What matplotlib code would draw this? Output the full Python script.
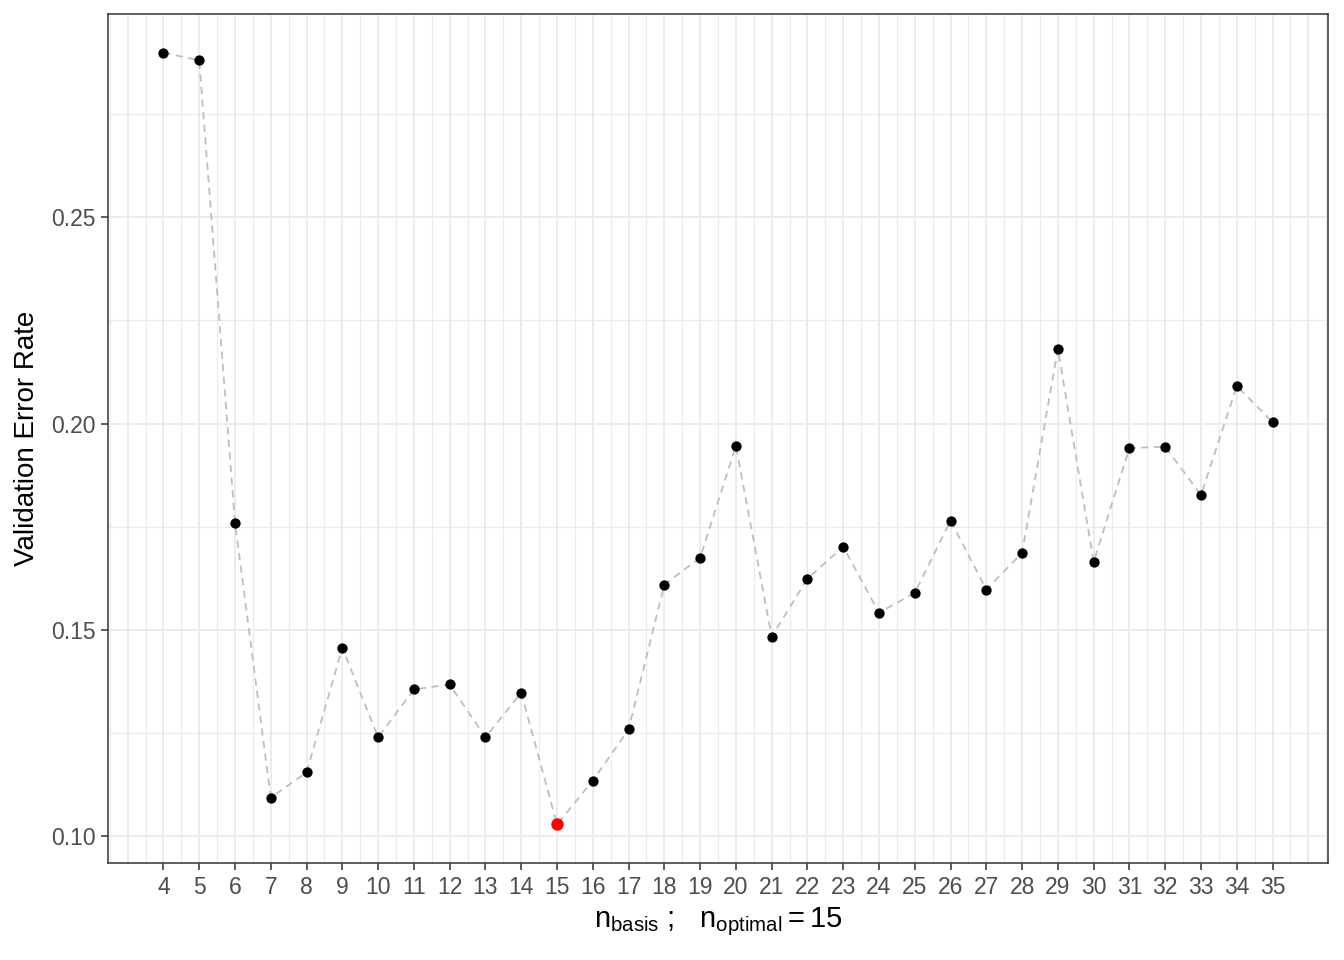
import numpy as np
import matplotlib
matplotlib.use("Agg")
import matplotlib.pyplot as plt

plt.rcParams['font.family'] = ['Liberation Sans', 'DejaVu Sans']
plt.rcParams['mathtext.fontset'] = 'custom'
plt.rcParams['mathtext.rm'] = 'Liberation Sans'
plt.rcParams['mathtext.it'] = 'Liberation Sans:italic'

n_basis = list(range(4, 36))
val_error = [0.2899, 0.2880, 0.1760, 0.1094, 0.1155, 0.1457, 0.1240, 0.1356,
             0.1368, 0.1240, 0.1348, 0.1029, 0.1135, 0.1259, 0.1610, 0.1675,
             0.1946, 0.1484, 0.1624, 0.1702, 0.1542, 0.1590, 0.1765, 0.1598,
             0.1687, 0.2181, 0.1665, 0.1941, 0.1944, 0.1827, 0.2091, 0.2004]
n_optimal = 15
y_ticks = [0.10, 0.15, 0.20, 0.25]

fig = plt.figure(figsize=(13.44, 9.6), dpi=100)
ax = fig.add_axes([108/1344, 97/960, 1220/1344, 849/960])

# grid like theme_bw
for x in np.arange(2.5, 37.0, 0.5):
    ax.axvline(x, color="#ebebeb", lw=0.8 if x % 1 else 1.3, zorder=0)
for y in [0.075, 0.125, 0.175, 0.225, 0.275]:
    ax.axhline(y, color="#ebebeb", lw=0.8, zorder=0)
for y in y_ticks:
    ax.axhline(y, color="#ebebeb", lw=1.3, zorder=0)

ax.plot(n_basis, val_error, ls=(0, (4, 3)), color="#bebebe", lw=1.3, zorder=2)
ax.scatter(n_basis, val_error, s=55, color="black", zorder=3, lw=0)
i_opt = n_basis.index(n_optimal)
ax.scatter([n_optimal], [val_error[i_opt]], s=80, color="red", zorder=4, lw=0)

xr = max(n_basis) - min(n_basis)
ax.set_xlim(min(n_basis) - 0.05 * xr, max(n_basis) + 0.05 * xr)
yr = max(val_error) - min(val_error)
ax.set_ylim(min(val_error) - 0.05 * yr, max(val_error) + 0.05 * yr)

ax.set_xticks(n_basis)
ax.set_yticks(y_ticks)
ax.set_yticklabels(["%.2f" % v for v in y_ticks])
ax.tick_params(colors="#333333", labelcolor="#4d4d4d", labelsize=16.5,
               length=5, width=1.1, pad=4)
for s in ax.spines.values():
    s.set_color("#333333")
    s.set_linewidth(1.1)

ax.set_ylabel("Validation Error Rate", fontsize=20, labelpad=8)
ax.set_xlabel(r"$\mathregular{n_{basis}}$ ;   $\mathregular{n_{optimal}} = $"
              + "%d" % n_optimal, fontsize=21, labelpad=5)

fig.savefig("out.png", dpi=100)
